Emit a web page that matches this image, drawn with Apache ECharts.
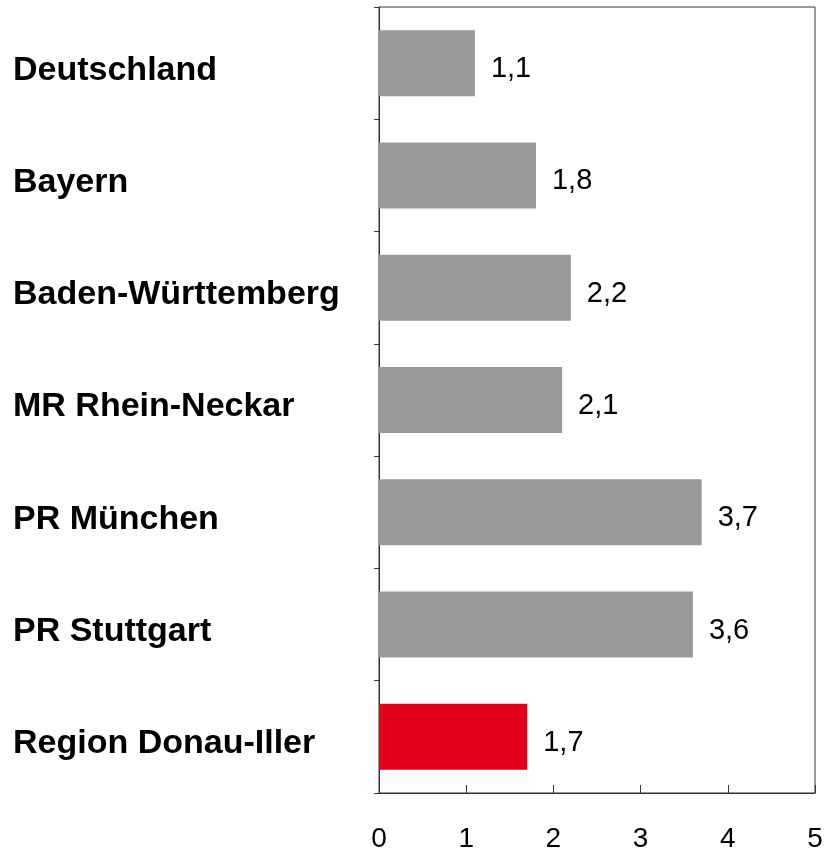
<!DOCTYPE html>
<html>
<head>
<meta charset="utf-8">
<script src="https://cdn.jsdelivr.net/npm/echarts@6/dist/echarts.min.js"></script>
<style>
  html, body { margin: 0; padding: 0; background: #fff; }
  #main { width: 825px; height: 849px; }
</style>
</head>
<body>
<div id="main"></div>
<script>
const categories = ['Deutschland', 'Bayern', 'Baden-Württemberg', 'MR Rhein-Neckar', 'PR München', 'PR Stuttgart', 'Region Donau-Iller'];
const values = [1.1, 1.8, 2.2, 2.1, 3.7, 3.6, 1.7];
const highlight = 'Region Donau-Iller';
const xTicks = [0, 1, 2, 3, 4, 5];

const chart = echarts.init(document.getElementById('main'));
const option = {
  animation: false,
  grid: {
    left: 379, right: 10, top: 7, bottom: 56,
    outerBoundsMode: 'none',
    containLabel: false,
    show: true, borderColor: '#333', borderWidth: 1
  },
  xAxis: {
    type: 'value',
    min: xTicks[0],
    max: xTicks[xTicks.length - 1],
    interval: 1,
    splitLine: { show: false },
    axisLine: { show: true, lineStyle: { color: '#333', width: 1 } },
    axisTick: { show: true, inside: true, length: 8, lineStyle: { color: '#333' } },
    axisLabel: {
      margin: 32,
      color: '#000',
      fontFamily: 'Liberation Sans, Arial, sans-serif',
      fontSize: 28
    }
  },
  yAxis: {
    type: 'category',
    data: categories,
    inverse: true,
    axisLine: { show: true, lineStyle: { color: '#333', width: 1 } },
    axisTick: { show: true, length: 5, lineStyle: { color: '#333' } },
    axisLabel: {
      align: 'left',
      margin: 366,
      formatter: v => '{c|' + v + '}',
      rich: {
        c: {
          color: '#000',
          fontFamily: 'Liberation Sans, Arial, sans-serif',
          fontWeight: 'bold',
          fontSize: 34,
          padding: [14, 0, 0, 0]
        }
      }
    }
  },
  series: [{
    type: 'bar',
    barWidth: 66,
    data: values.map((v, i) => ({
      value: v,
      itemStyle: { color: categories[i] === highlight ? '#e3001b' : '#999999' }
    })),
    label: {
      show: true,
      position: 'right',
      distance: 16,
      offset: [0, 6],
      color: '#000',
      fontFamily: 'Liberation Sans, Arial, sans-serif',
      fontSize: 29,
      formatter: p => String(p.value).replace('.', ',')
    }
  }]
};
chart.setOption(option);
</script>
</body>
</html>
